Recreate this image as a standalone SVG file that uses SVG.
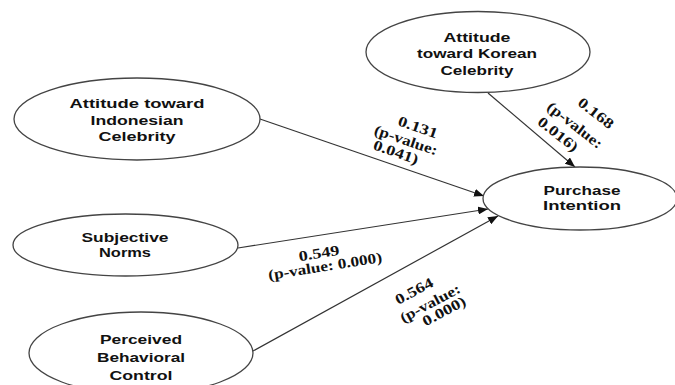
<svg xmlns="http://www.w3.org/2000/svg" width="675" height="385" viewBox="0 0 675 385">
<style>
.node ellipse{fill:#fff;stroke:#444;stroke-width:1.3}
.nt{font-family:"Liberation Sans",Arial,sans-serif;font-weight:700;font-size:13px;fill:#111;text-anchor:middle}
.lb{font-family:"Liberation Serif","Times New Roman",serif;font-weight:700;font-size:14.5px;fill:#111;text-anchor:middle}
.edge line{stroke:#333;stroke-width:1.2;fill:none}
</style>
<defs>
<marker id="ah" viewBox="0 0 10 8" refX="10" refY="4" markerWidth="10" markerHeight="8" markerUnits="userSpaceOnUse" orient="auto">
<path d="M0,0 L10,4 L0,8 z" fill="#111"/>
</marker>
</defs>
<rect width="675" height="385" fill="#fff"/>
<g id="connectors" class="edge">
<line x1="260" y1="119" x2="484" y2="196" marker-end="url(#ah)"/>
<line x1="238" y1="248" x2="488" y2="209" marker-end="url(#ah)"/>
<line x1="253" y1="351" x2="498" y2="216" marker-end="url(#ah)"/>
<line x1="488" y1="93" x2="575" y2="167" marker-end="url(#ah)"/>
</g>
<g id="node-indonesian" class="node">
<ellipse cx="137" cy="119" rx="123" ry="41"/>
<text class="nt" x="137" y="108" textLength="135" lengthAdjust="spacingAndGlyphs">Attitude toward</text>
<text class="nt" x="137" y="125" textLength="93" lengthAdjust="spacingAndGlyphs">Indonesian</text>
<text class="nt" x="137" y="141" textLength="77" lengthAdjust="spacingAndGlyphs">Celebrity</text>
</g>
<g id="node-korean" class="node">
<ellipse cx="478" cy="52" rx="112" ry="40.5"/>
<text class="nt" x="477" y="42" textLength="67" lengthAdjust="spacingAndGlyphs">Attitude</text>
<text class="nt" x="477" y="58" textLength="120" lengthAdjust="spacingAndGlyphs">toward Korean</text>
<text class="nt" x="477" y="75" textLength="73" lengthAdjust="spacingAndGlyphs">Celebrity</text>
</g>
<g id="node-purchase" class="node">
<ellipse cx="580" cy="198.5" rx="97" ry="31.5"/>
<text class="nt" x="582" y="195" textLength="77" lengthAdjust="spacingAndGlyphs">Purchase</text>
<text class="nt" x="582" y="210" textLength="78" lengthAdjust="spacingAndGlyphs">Intention</text>
</g>
<g id="node-subjective" class="node">
<ellipse cx="125.5" cy="245" rx="112.5" ry="31"/>
<text class="nt" x="125" y="242" textLength="87" lengthAdjust="spacingAndGlyphs">Subjective</text>
<text class="nt" x="125" y="257" textLength="52" lengthAdjust="spacingAndGlyphs">Norms</text>
</g>
<g id="node-pbc" class="node">
<ellipse cx="141" cy="353" rx="112" ry="41"/>
<text class="nt" x="141" y="344" textLength="82" lengthAdjust="spacingAndGlyphs">Perceived</text>
<text class="nt" x="141" y="362" textLength="88" lengthAdjust="spacingAndGlyphs">Behavioral</text>
<text class="nt" x="141" y="380" textLength="63" lengthAdjust="spacingAndGlyphs">Control</text>
</g>
<g id="labels">
<text class="lb" transform="translate(418,127) rotate(19)" x="0" y="5" textLength="41" lengthAdjust="spacingAndGlyphs">0.131</text>
<text class="lb" transform="translate(406,140) rotate(19)" x="0" y="5" textLength="66" lengthAdjust="spacingAndGlyphs">(p-value:</text>
<text class="lb" transform="translate(396,152) rotate(19)" x="0" y="5" textLength="47" lengthAdjust="spacingAndGlyphs">0.041)</text>
<text class="lb" transform="translate(596,113) rotate(38)" x="0" y="5" textLength="41" lengthAdjust="spacingAndGlyphs">0.168</text>
<text class="lb" transform="translate(575,125) rotate(38)" x="0" y="5" textLength="66" lengthAdjust="spacingAndGlyphs">(p-value:</text>
<text class="lb" transform="translate(558,134) rotate(38)" x="0" y="5" textLength="47" lengthAdjust="spacingAndGlyphs">0.016)</text>
<text class="lb" transform="translate(319,253) rotate(-9)" x="0" y="5" textLength="41" lengthAdjust="spacingAndGlyphs">0.549</text>
<text class="lb" transform="translate(325,266) rotate(-9)" x="0" y="5" textLength="115" lengthAdjust="spacingAndGlyphs">(p-value: 0.000)</text>
<text class="lb" transform="translate(414,291) rotate(-28)" x="0" y="5" textLength="41" lengthAdjust="spacingAndGlyphs">0.564</text>
<text class="lb" transform="translate(430,303) rotate(-28)" x="0" y="5" textLength="66" lengthAdjust="spacingAndGlyphs">(p-value:</text>
<text class="lb" transform="translate(444,311) rotate(-28)" x="0" y="5" textLength="47" lengthAdjust="spacingAndGlyphs">0.000)</text>
</g>
</svg>
